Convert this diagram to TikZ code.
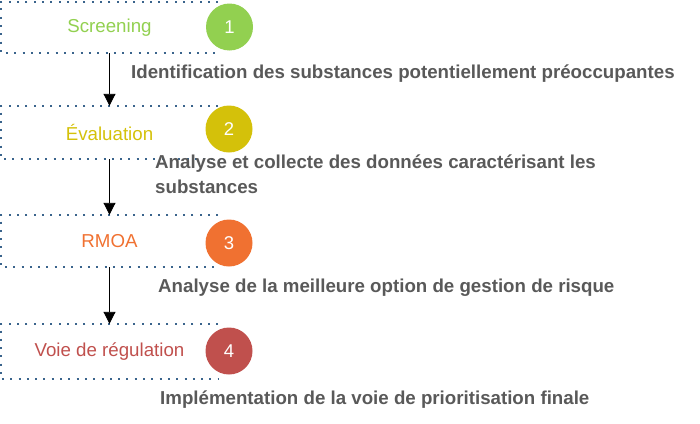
\documentclass[tikz,border=0pt]{standalone}
\usepackage{fontspec}
\setmainfont{Liberation Sans}
\usetikzlibrary{arrows.meta}
\definecolor{boxline}{RGB}{58,100,140}
\definecolor{descgray}{RGB}{89,89,89}
\definecolor{cgreen}{RGB}{146,208,80}
\definecolor{cyellow}{RGB}{212,193,10}
\definecolor{corange}{RGB}{240,113,49}
\definecolor{cred}{RGB}{192,80,77}
\tikzset{
  stagebox/.style={minimum width=217pt, inner sep=0pt, font=\fontsize{18.7}{20}\selectfont},
  boxoutline/.style={boxline, line width=2pt, dash pattern=on 2pt off 6.3pt},
  numcircle/.style={circle, minimum size=47pt, inner sep=0pt, text=white, font=\fontsize{18.5}{20}\selectfont},
  desc/.style={anchor=base west, inner sep=0pt, text=descgray, font=\bfseries\fontsize{18.7}{24.5}\selectfont, align=left},
  flow/.style={black, line width=0.9pt, -{Triangle[length=12pt,width=12pt]}}
}
\begin{document}
\begin{tikzpicture}[x=1pt,y=-1pt]
\useasboundingbox (0,0) rectangle (700,423);
% stage boxes
\node[stagebox, minimum height=51pt, text=cgreen] (b1) at (109.5,27.5) {Screening};
\node[stagebox, minimum height=53pt, text=cyellow] (b2) at (109.5,132.5) {Évaluation};
\node[stagebox, minimum height=52pt, text=corange] (b3) at (109.5,241) {RMOA};
\node[stagebox, minimum height=55pt, text=cred] (b4) at (109.5,351.5) {Voie de régulation};
\foreach \b in {b1,b2,b3,b4}{
  \draw[boxoutline] (\b.north east) -- (\b.north west) -- (\b.south west) -- (\b.south east);
}
% number circles
\node[numcircle, fill=cgreen] (c1) at (229.5,27) {1};
\node[numcircle, fill=cyellow] (c2) at (229,129) {2};
\node[numcircle, fill=corange] (c3) at (229,243) {3};
\node[numcircle, fill=cred] (c4) at (229,351) {4};
% arrows
\draw[flow] (b1.south) -- (b2.north);
\draw[flow] (b2.south) -- (b3.north);
\draw[flow] (b3.south) -- (b4.north);
% descriptions
\node[desc] (d1) at (131,78) {Identification des substances potentiellement préoccupantes};
\node[desc] (d2) at (155,193) {Analyse et collecte des données caractérisant les\\substances};
\node[desc] (d3) at (158,292.3) {Analyse de la meilleure option de gestion de risque};
\node[desc] (d4) at (160,404) {Implémentation de la voie de prioritisation finale};
\end{tikzpicture}
\end{document}
